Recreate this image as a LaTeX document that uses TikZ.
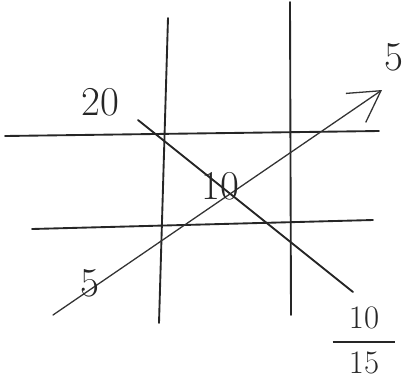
\documentclass[tikz,border=0pt]{standalone}
\usepackage{amsmath}
\usepackage{tikz}
\usetikzlibrary{arrows.meta}
\tikzset{
  pen/.style={line width=1.6pt,black!85,line cap=round},
  thinpen/.style={line width=1.1pt,black!80,line cap=round},
  num/.style={font=\fontsize{35}{38}\selectfont,text=black!85,inner sep=0pt},
  fracnum/.style={font=\fontsize{28}{30}\selectfont,text=black!85,inner sep=0pt},
}

\begin{document}
\begin{tikzpicture}[x=0.03cm,y=-0.03cm]
  \useasboundingbox (0,0) rectangle (417,383);
  % the four grid lines
  \foreach \xa/\ya/\xb/\yb in {168/18/159/323,290/2/291/315,5/136/379/131,32/229/373/220}{
    \draw[pen] (\xa,\ya) -- (\xb,\yb);
  }
  % diagonal and arrow
  \coordinate (diag start) at (138,120);
  \coordinate (diag end) at (353,292);
  \coordinate (arr start) at (53,315);
  \coordinate (arr end) at (382,90);
  \draw[pen] (diag start) -- (diag end);
  \draw[thinpen,-{Straight Barb[length=26pt,width=30pt]}] (arr start) -- (arr end);
  % numbers
  \node[num] (top) at (100,102) {20};
  \node[num] (mid) at (220,186) {10};
  \node[num] (low) at (90,283) {5};
  \node[num] (tip) at (394,57) {5};
  \node[fracnum] (frac) at (364,344) {\setlength{\arrayrulewidth}{1.3pt}%
    \begin{tabular}{@{\hspace{14pt}}c@{\hspace{14pt}}}10\\[2pt]\hline\rule{0pt}{26pt}15\end{tabular}};
\end{tikzpicture}
\end{document}
